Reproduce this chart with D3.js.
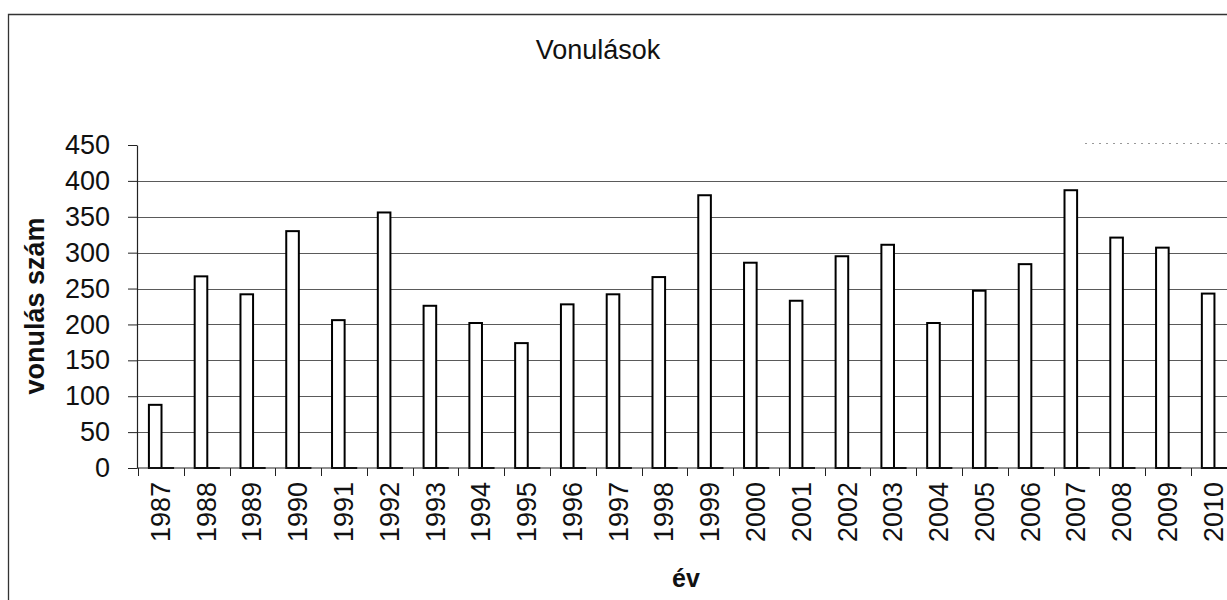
<!DOCTYPE html>
<html>
<head>
<meta charset="utf-8">
<script src="https://cdn.jsdelivr.net/npm/d3@7/dist/d3.min.js"></script>
<style>
  html, body { margin: 0; padding: 0; background: #fff; overflow: hidden; }
  svg { display: block; }
  text { font-family: "Liberation Sans", Arial, sans-serif; fill: #111; }
</style>
</head>
<body>
<svg id="chart" width="1227" height="600"></svg>
<script>
// ---- data ----
const years = ["1987","1988","1989","1990","1991","1992","1993","1994","1995","1996","1997","1998",
               "1999","2000","2001","2002","2003","2004","2005","2006","2007","2008","2009","2010"];
const vonulasok = [88, 267, 242, 330, 206, 356, 226, 202, 174, 228, 242, 266,
                   380, 286, 233, 295, 311, 202, 247, 284, 387, 321, 307, 243];
const series2 = [0,0,0,0,0,0,0,0,0,0,0,0,0,0,0,0,0,0,0,0,0,0,0,0];
const seriesNames = ["vonulás", "s2"];
const yTicks = [0, 50, 100, 150, 200, 250, 300, 350, 400, 450];
const titleText = "Vonulások";
const yTitle = "vonulás szám";
const xTitle = "év";

// ---- layout ----
const svg = d3.select("#chart");
const plotLeft = 137, plotTop = 145, plotBottom = 468;
const step = 45.78;
const plotRight = plotLeft + 1 + years.length * step;

const x = d3.scaleBand().domain(years).range([plotLeft + 1, plotRight]).padding(0);
const xs = d3.scaleBand().domain(seriesNames).range([0, x.bandwidth()])
  .paddingInner(0).paddingOuter(0.817).align(0.53);
const y = d3.scaleLinear().domain([0, 450]).range([plotBottom, plotTop]);

// outer chart border (left + top visible)
svg.append("path")
  .attr("d", `M8.5,600 V14.5 H1227`)
  .attr("fill", "none").attr("stroke", "#333").attr("stroke-width", 1.3);

// legend box top edge remnant (clipped at right)
svg.append("line")
  .attr("x1", 1085).attr("x2", 1227).attr("y1", 143.5).attr("y2", 143.5)
  .attr("stroke", "#999").attr("stroke-width", 1).attr("stroke-dasharray", "2,5");

// title
svg.append("text")
  .attr("x", 598).attr("y", 59)
  .attr("text-anchor", "middle")
  .style("font-size", "27px")
  .text(titleText);

// gridlines
svg.append("g").selectAll("line")
  .data(yTicks.filter(t => t > 0 && t < 450))
  .join("line")
  .attr("x1", plotLeft).attr("x2", plotRight)
  .attr("y1", d => Math.round(y(d)) + 0.5).attr("y2", d => Math.round(y(d)) + 0.5)
  .attr("stroke", "#5a5a5a").attr("stroke-width", 1);

// y axis
const yAxis = svg.append("g")
  .attr("transform", `translate(${plotLeft},0)`)
  .call(d3.axisLeft(y).tickValues(yTicks).tickSize(9).tickSizeOuter(0).tickPadding(18));
yAxis.select(".domain").attr("stroke", "#222").attr("stroke-width", 1.2);
yAxis.selectAll(".tick line").attr("stroke", "#222");
yAxis.selectAll(".tick text")
  .style("font-size", "27px")
  .style("font-family", "'Liberation Sans', Arial, sans-serif")
  .attr("fill", "#111");

// bars (main series)
svg.append("g").selectAll("rect")
  .data(years.map((yr, i) => ({ yr, v: vonulasok[i] })))
  .join("rect")
  .attr("x", d => x(d.yr) + xs(seriesNames[0]))
  .attr("y", d => y(d.v))
  .attr("width", xs.bandwidth())
  .attr("height", d => y(0) - y(d.v))
  .attr("fill", "#fff")
  .attr("stroke", "#000")
  .attr("stroke-width", 2);

// second (zero) series drawn as flat bars
svg.append("g").selectAll("path")
  .data(years.map((yr, i) => ({ yr, v: series2[i] })))
  .join("path")
  .attr("d", d => {
    const x0 = x(d.yr) + xs(seriesNames[1]);
    return `M${x0},${y(0)} V${y(d.v)} H${x0 + xs.bandwidth()} V${y(0)}`;
  })
  .attr("fill", "#fff").attr("stroke", "#000").attr("stroke-width", 2);

// x axis baseline
svg.append("line")
  .attr("x1", plotLeft).attr("x2", plotRight)
  .attr("y1", y(0)).attr("y2", y(0))
  .attr("stroke", "#222").attr("stroke-width", 1.2);

// x ticks at category boundaries
svg.append("g").selectAll("line")
  .data(years)
  .join("line")
  .attr("x1", d => Math.round(x(d)) + 0.5).attr("x2", d => Math.round(x(d)) + 0.5)
  .attr("y1", y(0)).attr("y2", y(0) + 8)
  .attr("stroke", "#222").attr("stroke-width", 1);

// x labels (rotated)
svg.append("g").selectAll("text")
  .data(years)
  .join("text")
  .attr("transform", d => `translate(${x(d) + x.bandwidth() / 2},482) rotate(-90)`)
  .attr("text-anchor", "end")
  .attr("dominant-baseline", "central")
  .style("font-size", "27px")
  .text(d => d);

// axis titles
svg.append("text")
  .attr("transform", `translate(35,306) rotate(-90)`)
  .attr("text-anchor", "middle")
  .attr("dominant-baseline", "central")
  .style("font-size", "27px")
  .style("font-weight", "bold")
  .text(yTitle);

svg.append("text")
  .attr("x", 686).attr("y", 587)
  .attr("text-anchor", "middle")
  .style("font-size", "25px")
  .style("font-weight", "bold")
  .text(xTitle);
</script>
</body>
</html>
